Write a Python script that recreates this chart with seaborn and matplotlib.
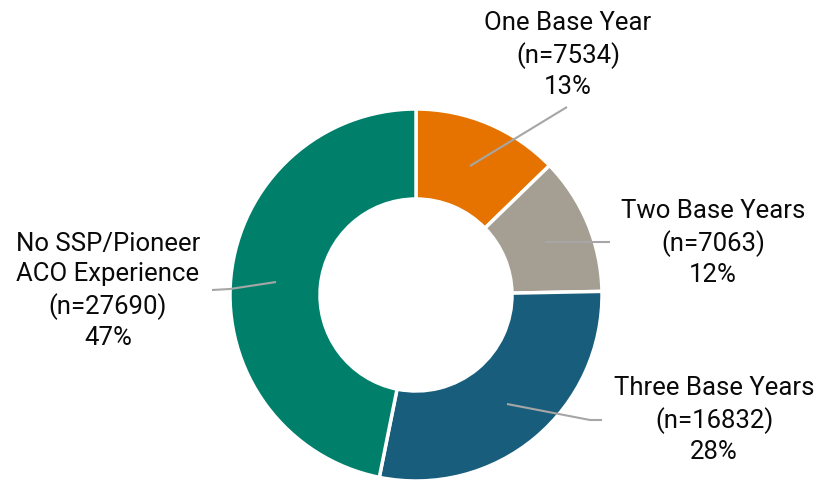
import matplotlib
matplotlib.use("Agg")
import matplotlib.pyplot as plt
import seaborn as sns
import numpy as np

# Data
categories = ["One Base Year", "Two Base Years", "Three Base Years",
              "No SSP/Pioneer\nACO Experience"]
counts = [7534, 7063, 16832, 27690]
percent_labels = ["13%", "12%", "28%", "47%"]
colors = ["#E67300", "#A59E92", "#185E7C", "#00806B"]

sns.set_theme(style="white")
plt.rcParams["font.family"] = ["Roboto", "DejaVu Sans"]

W, H = 822, 482
fig = plt.figure(figsize=(W / 100, H / 100), dpi=100)
ax = fig.add_axes([0, 0, 1, 1])

cx, cy = 416, H - 295
r_out, r_in = 186, 96

wedges, _ = ax.pie(counts, colors=sns.color_palette(colors), startangle=90,
                   counterclock=False, center=(cx, cy), radius=r_out,
                   wedgeprops=dict(width=r_out - r_in, edgecolor="white",
                                   linewidth=2.5))

# pie() resets the limits, so fix the pixel-based frame afterwards
ax.set_xlim(0, W)
ax.set_ylim(0, H)
ax.set_aspect("equal")
ax.axis("off")

# Label layout: text center and leader path (in px, y down)
label_text_pos = [(568, 55), (713, 243), (714, 420), (108, 291)]
leader_paths = [
    [(470, 166), (567, 107)],
    [(545, 242), (610, 242)],
    [(507, 404), (590, 420), (602, 420)],
    [(276, 282), (230, 289), (212, 290)],
]

for cat, n, pct, (tx, ty), path in zip(categories, counts, percent_labels,
                                       label_text_pos, leader_paths):
    text = f"{cat}\n(n={n})\n{pct}"
    ax.text(tx, H - ty, text, ha="center", va="center", fontsize=18.5,
            color="#0A0A0A", linespacing=1.33)
    xs = [p[0] for p in path]
    ys = [H - p[1] for p in path]
    ax.plot(xs, ys, color="#A6A6A6", lw=1.5, solid_capstyle="butt")

fig.savefig("out.png", dpi=100, facecolor="white")
